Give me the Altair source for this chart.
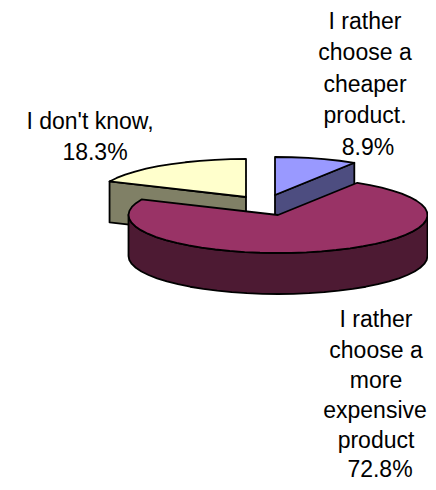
import math
import altair as alt

# --- values ---
categories = ["cheaper", "expensive", "unknown"]
shares = [8.9, 72.8, 18.3]
top_colors = ["#9999FF", "#993366", "#FFFFCC"]
wall_colors = ["#4D4D80", "#4D1A33", "#808066"]
label_lines = [
    ["I rather", "choose a", "cheaper", "product.", "8.9%"],
    ["I rather", "choose a", "more", "expensive", "product", "72.8%"],
    ["I don't know,", "18.3%"],
]

# --- layout of the drawing ---
W, H = 420, 474
RX, RY, DEPTH = 149.5, 38.0, 41.0
STEP = 6.0
centers = {"cheaper": (267, 187), "expensive": (270, 207), "unknown": (238, 189)}
draw_order = ["unknown", "cheaper", "expensive"]
label_pos = {
    "cheaper": [(357, 21), (357, 52), (357, 84), (357, 115), (360, 147)],
    "expensive": [(368, 319), (368, 350), (368, 380), (367, 410), (368, 440), (372, 469)],
    "unknown": [(82, 121), (87, 152)],
}

# --- angles from the shares ---
angles = {}
start = 0.0
for cat, share in zip(categories, shares):
    end = start + share * 3.6
    angles[cat] = (start, end)
    start = end


def rim(cat, deg, drop=0.0):
    cx, cy = centers[cat]
    t = math.radians(deg)
    return [cx + RX * math.sin(t), cy - RY * math.cos(t) + drop]


def sweep(a0, a1):
    n = max(1, int(round((a1 - a0) / STEP)))
    return [a0 + (a1 - a0) * i / n for i in range(n + 1)]


def feature(points, fill):
    ring = [[round(x, 2), round(y, 2)] for x, y in points]
    ring.append(ring[0])
    return {
        "type": "Feature",
        "properties": {"fill": fill},
        "geometry": {"type": "Polygon", "coordinates": [ring]},
    }


features = []
for cat in draw_order:
    i = categories.index(cat)
    a0, a1 = angles[cat]
    apex = list(centers[cat])
    if cat == "expensive":
        arc = sweep(90, 270)
        wall = [rim(cat, a) for a in arc] + [rim(cat, a, DEPTH) for a in reversed(arc)]
    else:
        edge = a1 if cat == "cheaper" else a0
        wall = [apex, rim(cat, edge), rim(cat, edge, DEPTH), [apex[0], apex[1] + DEPTH]]
    features.append(feature(wall, wall_colors[i]))
    top = [apex] + [rim(cat, a) for a in sweep(a0, a1)]
    features.append(feature(top, top_colors[i]))

rows = []
for cat, lines in zip(categories, label_lines):
    for text, (x, y) in zip(lines, label_pos[cat]):
        rows.append({"text": text, "x": x, "y": y})

pie = (
    alt.Chart(alt.Data(values=features))
    .mark_geoshape(stroke="#000000", strokeWidth=1.8, strokeJoin="round")
    .encode(fill=alt.Fill("properties.fill:N", scale=None, legend=None))
    .project(type="identity", scale=1, translate=[0, 0])
)

labels = (
    alt.Chart(alt.Data(values=rows))
    .mark_text(font="Liberation Sans", fontSize=23, color="#000000", align="center", baseline="alphabetic")
    .encode(
        x=alt.X("x:Q", scale=alt.Scale(domain=[0, W], range=[0, W], nice=False, zero=False), axis=None),
        y=alt.Y("y:Q", scale=alt.Scale(domain=[0, H], range=[0, H], nice=False, zero=False), axis=None),
        text="text:N",
    )
)

chart = (
    alt.layer(pie, labels)
    .properties(width=W, height=H, padding=0, background="#FFFFFF", autosize=alt.AutoSizeParams(type="none"))
    .configure_view(stroke=None)
)

chart.save("out.html", embed_options={"renderer": "svg", "actions": False})
